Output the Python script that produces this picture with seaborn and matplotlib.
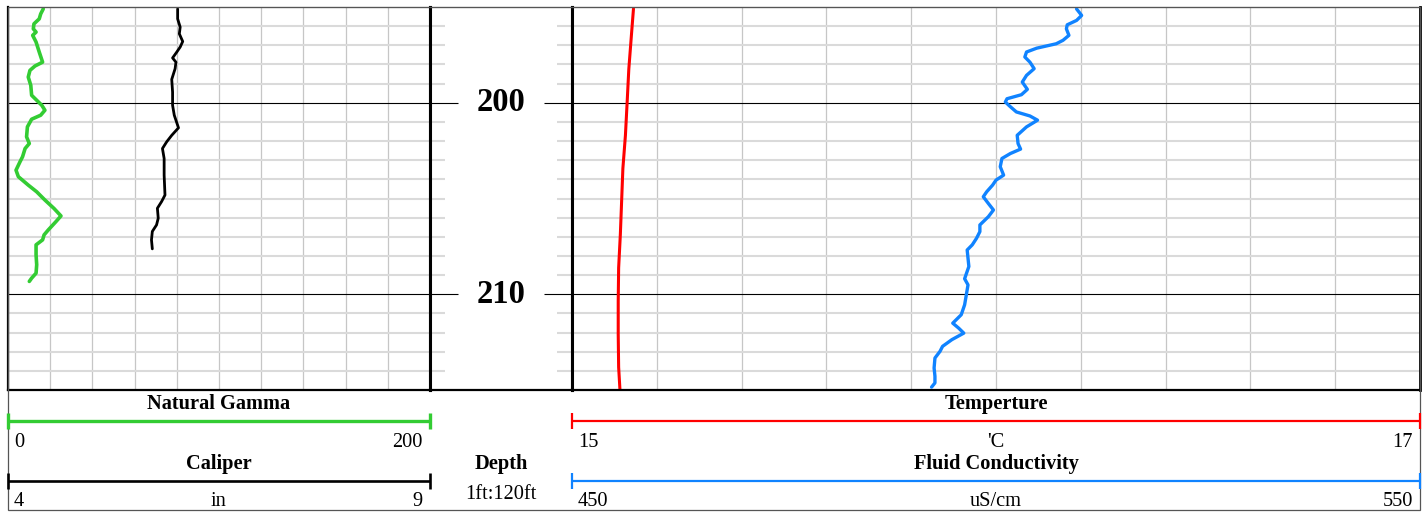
import numpy as np
import pandas as pd
import matplotlib
matplotlib.use('Agg')
import matplotlib.pyplot as plt
import seaborn as sns
from matplotlib.transforms import blended_transform_factory
from matplotlib.patches import Rectangle

sns.set_theme(style='white')
plt.rcParams['font.family'] = ['Liberation Serif', 'DejaVu Serif']
plt.rcParams['text.color'] = 'black'

# log data (depth in ft)

gr_depth = [195.10, 195.36, 195.62, 195.88, 196.14, 196.31, 196.48, 196.83, 197.35, 197.88,
            198.08, 198.31, 198.66, 199.09, 199.61, 199.87, 200.13, 200.39, 200.65, 200.86,
            201.26, 201.78, 202.13, 202.39, 202.82, 203.08, 203.52, 203.86, 204.30, 204.65,
            205.08, 205.52, 205.91, 206.21, 206.64, 206.90, 207.16, 207.42, 207.94, 208.46,
            208.90, 209.16, 209.33]
gr_api = [16.7, 15.5, 14.8, 12.3, 12.0, 13.3, 11.7, 13.3, 14.8, 16.4,
          12.8, 10.4, 9.6, 10.8, 11.2, 13.6, 16.0, 17.5, 15.5, 11.2,
          9.2, 8.8, 10.1, 8.1, 6.9, 5.7, 3.8, 4.9, 9.6, 13.6,
          17.5, 21.8, 25.1, 22.7, 19.1, 17.1, 16.4, 13.3, 13.3, 13.6,
          13.3, 11.2, 10.1]

cal_depth = [195.10, 195.62, 196.05, 196.40, 196.80, 197.09, 197.35, 197.66, 197.88, 198.22,
             198.78, 199.44, 200.13, 200.65, 201.31, 201.70, 202.04, 202.39, 202.91, 203.78,
             204.82, 205.16, 205.51, 206.03, 206.38, 206.72, 207.16, 207.63]
cal_in = [6.01, 6.01, 6.04, 6.03, 6.07, 6.04, 6.00, 5.95, 5.99, 5.98,
          5.94, 5.95, 5.95, 5.97, 6.02, 5.94, 5.88, 5.83, 5.85, 5.85,
          5.86, 5.82, 5.77, 5.78, 5.76, 5.71, 5.70, 5.71]

temp_depth = [195.09, 196.51, 198.24, 200.00, 201.70, 203.43, 205.16, 206.89, 208.62,
              210.35, 212.08, 213.81, 214.95]
temp_c = [15.145, 15.140, 15.134, 15.130, 15.126, 15.120, 15.117, 15.114, 15.110,
          15.109, 15.109, 15.110, 15.113]

fc_depth = [195.10, 195.44, 195.70, 195.93, 196.14, 196.48, 196.74, 196.92, 197.15, 197.35,
            197.61, 197.88, 198.22, 198.57, 198.92, 199.30, 199.58, 199.79, 199.96, 200.17,
            200.48, 200.69, 200.91, 201.26, 201.70, 202.13, 202.42, 202.65, 202.91, 203.34,
            203.78, 204.04, 204.30, 204.65, 204.91, 205.26, 205.60, 205.95, 206.38, 206.73,
            207.08, 207.42, 207.69, 208.12, 208.55, 209.19, 209.51, 210.03, 210.55, 211.07,
            211.51, 211.77, 212.03, 212.37, 212.72, 212.98, 213.33, 213.85, 214.28, 214.63,
            214.85]
fc_us = [509.5, 510.1, 509.5, 508.4, 508.3, 508.6, 507.9, 507.1, 504.8, 503.6,
         503.4, 504.0, 504.5, 503.6, 503.1, 503.7, 503.0, 501.3, 501.1, 501.6,
         502.4, 504.0, 504.9, 503.6, 502.5, 502.6, 502.9, 501.7, 500.7, 500.5,
         500.9, 500.0, 499.6, 498.9, 498.5, 499.1, 499.7, 499.1, 498.1, 498.1,
         497.7, 497.2, 496.6, 496.7, 496.8, 496.3, 496.7, 496.5, 496.3, 495.9,
         494.9, 495.6, 496.2, 494.8, 493.7, 493.4, 492.8, 492.7, 492.8, 492.8,
         492.4]

# track scales
gr_scale = [0, 200]
cal_scale = [4, 9]
temp_scale = [15, 17]
fc_scale = [450, 550]
depth_top, depth_bottom = 195, 215
major_depths = [200, 210]
minor_depths = list(range(196, 215))

# layout in pixels
W, H = 1425, 519
TOP, BOT = 7, 390
LX0, LX1, DX1, RX1 = 8, 430, 572, 1420
FRAME_BOT = 510
FS = 14.7

fig = plt.figure(figsize=(W / 100, H / 100), dpi=100)


def box(x0, x1):
    return [x0 / W, 1 - BOT / H, (x1 - x0) / W, (BOT - TOP) / H]


def style_track(ax, lim):
    ax.set_xlim(*lim)
    ax.set_ylim(depth_bottom, depth_top)
    ax.set_xticks(np.linspace(lim[0], lim[1], 11))
    ax.set_yticks(major_depths)
    ax.set_yticks(minor_depths, minor=True)
    ax.grid(True, which='major', axis='x', color='#c6c6c6', lw=0.9)
    ax.grid(True, which='major', axis='y', color='black', lw=0.8)
    ax.grid(True, which='minor', axis='y', color='#dadada', lw=1.5)
    ax.tick_params(which='both', length=0, labelbottom=False, labelleft=False)
    ax.set_axisbelow(True)
    ax.set_xlabel('')
    ax.set_ylabel('')


def plot_curve(ax, x, y, color, lw):
    df = pd.DataFrame({'val': x, 'depth': y})
    sns.lineplot(data=df, x='val', y='depth', orient='y', sort=False, estimator=None,
                 color=color, lw=lw, ax=ax, solid_joinstyle='round',
                 solid_capstyle='round')


# left track: gamma + caliper
ax_gr = fig.add_axes(box(LX0, LX1))
plot_curve(ax_gr, gr_api, gr_depth, '#33cc33', 2.6)
ax_cal = ax_gr.twiny()
plot_curve(ax_cal, cal_in, cal_depth, 'black', 2.0)
style_track(ax_gr, gr_scale)
ax_cal.set_xlim(*cal_scale)
ax_cal.axis('off')
ax_gr.set_ylim(depth_bottom, depth_top)

# depth track
ax_d = fig.add_axes(box(LX1, DX1))
ax_d.set_xlim(0, 1)
ax_d.set_ylim(depth_bottom, depth_top)
ax_d.set_xticks([])
ax_d.set_yticks(major_depths)
ax_d.set_yticks(minor_depths, minor=True)
ax_d.tick_params(axis='y', which='minor', direction='in', length=10.8, width=1.5,
                 color='#dadada', left=True, right=True, labelleft=False)
ax_d.tick_params(axis='y', which='major', direction='in', length=20, width=0.8,
                 color='black', left=True, right=True, labelleft=False)
trans = blended_transform_factory(ax_d.transAxes, ax_d.transData)
for d in major_depths:
    ax_d.text(0.5, d, str(d), transform=trans, ha='center', va='center',
              fontsize=23.5, fontweight='bold', color='black')

# right track: temperature + fluid conductivity
ax_tp = fig.add_axes(box(DX1, RX1))
plot_curve(ax_tp, temp_c, temp_depth, '#ff0000', 2.2)
ax_fc = ax_tp.twiny()
plot_curve(ax_fc, fc_us, fc_depth, '#1083ff', 2.4)
style_track(ax_tp, temp_scale)
ax_fc.set_xlim(*fc_scale)
ax_fc.axis('off')
ax_tp.set_ylim(depth_bottom, depth_top)

# spines
for ax in (ax_gr, ax_d, ax_tp):
    for s in ax.spines.values():
        s.set_color('black')
        s.set_visible(True)
    ax.spines['top'].set_linewidth(0.8)
    ax.spines['top'].set_color('#444444')
    ax.spines['bottom'].set_linewidth(1.6)
ax_gr.spines['left'].set_linewidth(1.6)
ax_gr.spines['right'].set_linewidth(2.2)
ax_d.spines['left'].set_linewidth(2.2)
ax_d.spines['right'].set_linewidth(2.2)
ax_tp.spines['left'].set_linewidth(2.2)
ax_tp.spines['right'].set_linewidth(2.0)

# header with scale bars
hdr = fig.add_axes([0, 0, 1, 1])
hdr.set_xlim(0, W)
hdr.set_ylim(H, 0)
hdr.axis('off')
hdr.patch.set_visible(False)
hdr.add_patch(Rectangle((LX0, TOP), RX1 - LX0, FRAME_BOT - TOP, fill=False,
                        ec='#555555', lw=0.9))


def scale_bar(x0, x1, row, color, lw, title, scale, unit=''):
    line_y = 420.7 if row == 0 else 480.7
    title_y = 409.3 if row == 0 else 469
    lab_y = 446.7 if row == 0 else 506.5
    hdr.plot([x0, x1], [line_y, line_y], color=color, lw=lw, solid_capstyle='butt')
    for xc in (x0, x1):
        hdr.plot([xc, xc], [line_y - 8, line_y + 8.5], color=color, lw=lw,
                 solid_capstyle='butt')
    mid = (x0 + x1) / 2
    hdr.text(mid, title_y, title, ha='center', va='baseline', fontsize=FS,
             fontweight='bold')
    hdr.text(x0 + 6, lab_y, f'{scale[0]}', ha='left', va='baseline', fontsize=FS)
    hdr.text(x1 - 7, lab_y, f'{scale[1]}', ha='right', va='baseline', fontsize=FS)
    if unit:
        hdr.text(mid, lab_y, unit, ha='center', va='baseline', fontsize=FS)


scale_bar(LX0, LX1, 0, '#33cc33', 2.4, 'Natural Gamma', gr_scale)
scale_bar(LX0, LX1, 1, 'black', 1.9, 'Caliper', cal_scale, 'in')
scale_bar(DX1, RX1, 0, '#ff0000', 1.6, 'Temperture', temp_scale, "'C")
scale_bar(DX1, RX1, 1, '#1083ff', 1.6, 'Fluid Conductivity', fc_scale, 'uS/cm')
hdr.text((LX1 + DX1) / 2, 469, 'Depth', ha='center', va='baseline', fontsize=FS,
         fontweight='bold')
hdr.text((LX1 + DX1) / 2, 499.3, '1ft:120ft', ha='center', va='baseline', fontsize=FS)

fig.savefig('out.png', dpi=100)
